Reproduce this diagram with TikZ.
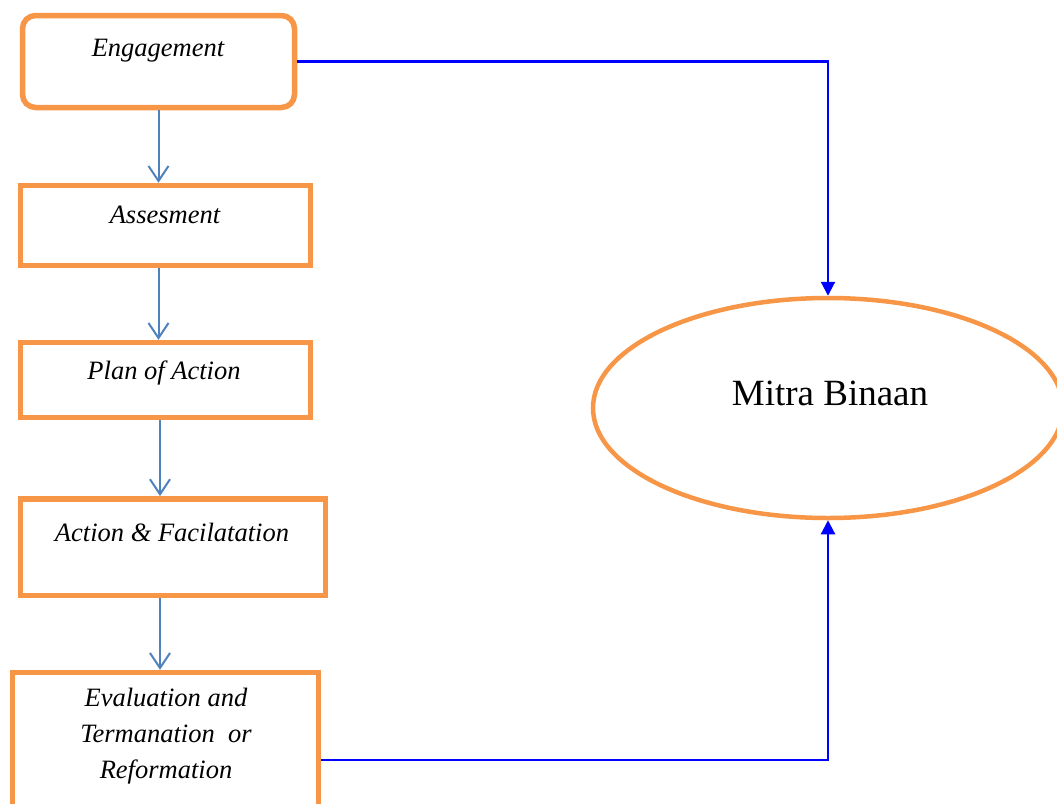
\documentclass[tikz,border=0pt]{standalone}
\usepackage{fontspec}
\setmainfont{Liberation Serif}
\usetikzlibrary{arrows.meta,shapes.geometric}
\definecolor{boxorange}{HTML}{F79646}
\definecolor{stepblue}{HTML}{4F81BD}
\definecolor{linkblue}{HTML}{0000FF}
\begin{document}
\begin{tikzpicture}[x=1pt,y=-1pt,
  stagebox/.style={draw=boxorange,line width=5.5pt,inner sep=0pt},
  stagetext/.style={font=\fontsize{26.5}{36}\selectfont\itshape,inner sep=0pt,align=center},
  flowarrow/.style={draw=stepblue,line width=2pt,-{Straight Barb[length=15pt,width=20pt,line width=2pt]}},
  linkarrow/.style={draw=linkblue,line width=2.2pt,-{Triangle[length=14pt,width=14pt]}}]
  \useasboundingbox (0,0) rectangle (1057,803);
  \clip (0,0) rectangle (1057,803);
  % stages
  \node[stagebox,rounded corners=13pt,minimum width=272pt,minimum height=92pt] (eng) at (158.5,61.5) {};
  \node[stagebox,minimum width=290pt,minimum height=80pt] (ass) at (165.5,225.5) {};
  \node[stagebox,minimum width=290pt,minimum height=75pt] (pln) at (165.5,380) {};
  \node[stagebox,minimum width=305pt,minimum height=96.5pt] (act) at (173,547) {};
  \node[stagebox,minimum width=306pt,minimum height=175pt] (evl) at (165.5,760) {};
  \node[stagetext,anchor=base] (engtxt) at (158,56) {Engagement};
  \node[stagetext,anchor=base] (asstxt) at (165,223) {Assesment};
  \node[stagetext,anchor=base] (plntxt) at (164,379) {Plan of Action};
  \node[stagetext,anchor=base] (acttxt) at (172,541) {Action \& Facilatation};
  \node[stagetext] (evltxt) at (166,736) {Evaluation and\\Termanation~ or\\Reformation};
  % target
  \node[draw=boxorange,line width=4.5pt,ellipse,inner sep=0pt,minimum width=470pt,minimum height=220pt] (mb) at (828,408) {};
  \node[font=\fontsize{37}{40}\selectfont,inner sep=0pt,anchor=base] (mbtxt) at (830,405) {Mitra Binaan};
  % flow
  \draw[flowarrow] (eng.south) -- (eng.south |- ass.north);
  \draw[flowarrow] (ass.south -| eng.south) -- (eng.south |- pln.north);
  \draw[flowarrow] ([xshift=1.5pt]pln.south -| eng.south) -- ([xshift=1.5pt]eng.south |- act.north);
  \draw[flowarrow] ([xshift=1.5pt]act.south -| eng.south) -- ([xshift=1.5pt]eng.south |- evl.north);
  \draw[linkarrow] (eng.east) -| (mb.north);
  \draw[linkarrow] (evl.east) -| (mb.south);
\end{tikzpicture}
\end{document}
